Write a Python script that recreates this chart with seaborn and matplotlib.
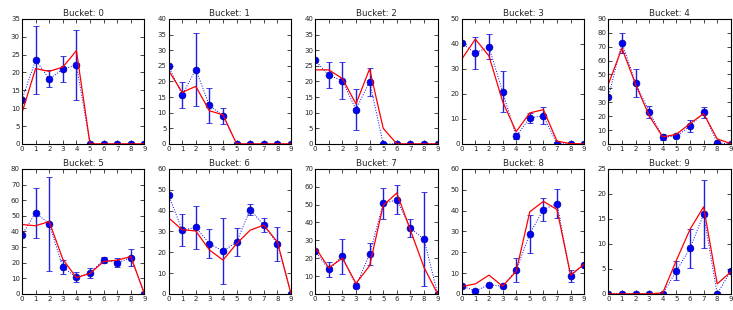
import numpy as np
import matplotlib
matplotlib.use("Agg")
import matplotlib.pyplot as plt
import seaborn as sns

# classic-looking style: white, black frame, inward ticks on all sides
sns.set_style("white")
plt.rcParams.update({
    "axes.edgecolor": "black",
    "axes.linewidth": 0.8,
    "xtick.direction": "in",
    "ytick.direction": "in",
    "xtick.top": True,
    "ytick.right": True,
    "xtick.bottom": True,
    "ytick.left": True,
    "xtick.major.size": 3,
    "ytick.major.size": 3,
    "xtick.major.width": 0.6,
    "ytick.major.width": 0.6,
    "xtick.major.pad": 1.5,
    "ytick.major.pad": 1.5,
    "font.family": ["DejaVu Sans"],
})

x = list(range(10))

# observed means (blue points)
obs_0 = [12.4, 23.5, 18.2, 20.9, 22.1, 0, 0, 0, 0, 0]
obs_1 = [24.8, 15.7, 23.8, 12.3, 9.0, 0, 0, 0, 0, 0]
obs_2 = [26.7, 22.0, 20.2, 11.0, 19.9, 0, 0, 0, 0, 0]
obs_3 = [40.2, 36.4, 38.8, 20.9, 3.1, 10.4, 11.2, 0, 0, 0]
obs_4 = [33.5, 73.0, 44.0, 23.2, 5.0, 5.5, 12.7, 22.7, 0.7, 0]
obs_5 = [37.9, 51.9, 44.9, 17.1, 10.6, 13.3, 21.8, 19.9, 23.1, 0]
obs_6 = [47.5, 30.6, 31.9, 24.1, 20.5, 24.9, 40.5, 32.9, 24.1, 0]
obs_7 = [23.9, 13.7, 21.1, 4.6, 22.2, 50.7, 52.6, 36.9, 30.6, 0]
obs_8 = [3.8, 1.4, 4.4, 3.7, 11.3, 28.9, 40.5, 43.3, 8.6, 14.1]
obs_9 = [0, 0, 0, 0, 0, 4.6, 9.1, 15.9, 0, 4.6]

# error half-widths
err_0 = [0, 9.6, 2.4, 3.7, 9.7, 0, 0, 0, 0, 0]
err_1 = [0, 4.1, 11.7, 5.6, 2.6, 0, 0, 0, 0, 0]
err_2 = [0, 4.2, 5.9, 6.6, 4.5, 0, 0, 0, 0, 0]
err_3 = [0, 6.4, 5.0, 8.2, 1.2, 2.0, 3.4, 0, 0, 0]
err_4 = [0, 7.2, 10.0, 4.2, 1.9, 1.0, 4.3, 3.7, 0, 0]
err_5 = [0, 16.0, 30.0, 4.5, 3.3, 3.4, 2.1, 3.0, 5.4, 0]
err_6 = [0, 7.8, 10.3, 7.1, 15.7, 6.9, 2.6, 3.4, 8.1, 0]
err_7 = [0, 4.4, 9.9, 1.3, 6.1, 8.5, 8.1, 4.8, 26.3, 0]
err_8 = [0, 0, 0, 0, 5.8, 9.2, 5.5, 7.0, 2.7, 0]
err_9 = [0, 0, 0, 0, 0, 1.9, 3.9, 6.8, 0, 0]

# model prediction (red line)
pred_0 = [8.7, 21.1, 20.3, 21.5, 26.1, 0, 0, 0, 0, 0]
pred_1 = [23.5, 16.5, 18.4, 10.6, 9.3, 0, 0, 0, 0, 0]
pred_2 = [23.7, 23.7, 20.9, 12.8, 24.0, 5.0, 0, 0, 0, 0]
pred_3 = [33.9, 41.9, 35.2, 17.0, 4.9, 12.4, 13.7, 1.1, 0.1, 0]
pred_4 = [43.0, 68.9, 43.0, 20.3, 5.0, 6.9, 14.6, 21.8, 3.6, 0.2]
pred_5 = [44.4, 43.6, 46.3, 22.2, 10.4, 13.1, 20.7, 21.6, 23.9, 0]
pred_6 = [36.5, 30.8, 30.2, 21.1, 16.2, 24.1, 30.6, 33.0, 24.9, 0]
pred_7 = [26.1, 14.6, 20.0, 5.9, 15.7, 49.6, 56.5, 35.7, 14.8, 0]
pred_8 = [3.5, 4.8, 9.0, 3.7, 10.8, 39.4, 44.4, 40.5, 9.0, 14.3]
pred_9 = [0, 0, 0, 0, 0.2, 6.7, 12.9, 17.4, 2.0, 4.4]

y_max = [35, 40, 40, 50, 90, 80, 60, 70, 60, 25]
y_step = [5, 5, 5, 10, 10, 10, 10, 10, 10, 5]

observed = [obs_0, obs_1, obs_2, obs_3, obs_4, obs_5, obs_6, obs_7, obs_8, obs_9]
errors = [err_0, err_1, err_2, err_3, err_4, err_5, err_6, err_7, err_8, err_9]
predicted = [pred_0, pred_1, pred_2, pred_3, pred_4, pred_5, pred_6, pred_7, pred_8, pred_9]

fig, axes = plt.subplots(2, 5, figsize=(7.33, 3.10), dpi=100)
fig.subplots_adjust(left=0.030, right=0.997, bottom=0.052, top=0.939,
                    wspace=0.197, hspace=0.2)

for i, ax in enumerate(axes.flat):
    ax.errorbar(x, observed[i], yerr=errors[i], fmt="none", ecolor="#2020e0",
                elinewidth=1.0, capsize=2, capthick=0.6, zorder=2)
    sns.lineplot(x=x, y=observed[i], ax=ax, color="blue", linestyle=":",
                 linewidth=0.7, marker="o", markersize=5,
                 markeredgewidth=0.4, markeredgecolor="#000080", zorder=3)
    sns.lineplot(x=x, y=predicted[i], ax=ax, color="red", linewidth=0.9,
                 zorder=4)
    ax.set_xlim(0, 9)
    ax.set_ylim(0, y_max[i])
    ax.set_xticks(x)
    ax.set_yticks(np.arange(0, y_max[i] + 1, y_step[i]))
    ax.tick_params(labelsize=5)
    ax.set_title(f"Bucket: {i}", fontsize=6.2, pad=2)
    for sp in ax.spines.values():
        sp.set_visible(True)
        sp.set_zorder(5)

plt.savefig("out.png", dpi=100)
plt.close()
